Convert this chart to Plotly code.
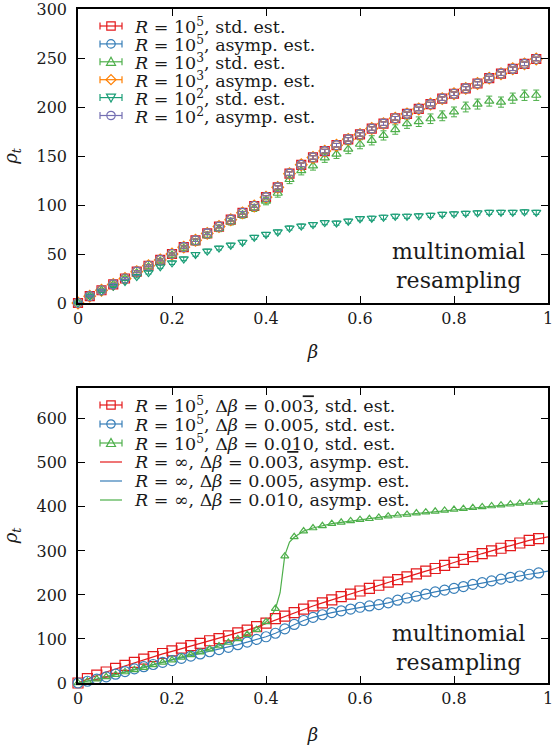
import plotly.graph_objects as go

# ---------------- data: top panel ----------------
beta_top = [0.0, 0.025, 0.05, 0.075, 0.1, 0.125, 0.15, 0.175, 0.2, 0.225,
            0.25, 0.275, 0.3, 0.325, 0.35, 0.375, 0.4, 0.425, 0.45, 0.475,
            0.5, 0.525, 0.55, 0.575, 0.6, 0.625, 0.65, 0.675, 0.7, 0.725,
            0.75, 0.775, 0.8, 0.825, 0.85, 0.875, 0.9, 0.925, 0.95, 0.975]

r1e5_std = [0, 7, 13, 19, 25, 32, 38, 44, 50, 57, 64, 71, 78, 85, 92, 99, 108, 118, 132, 141,
            148.5, 155, 161, 167, 172, 178, 183, 188.5, 193, 198, 203, 208.5, 213.5, 219, 224, 229.5, 234, 239, 244, 249]
r1e5_asy = [0, 7, 13, 19, 25, 32, 38, 44, 50, 57, 64, 71, 78, 85, 92, 99, 108, 118, 132, 141,
            148.5, 155, 161, 167, 172, 178, 183, 188.5, 193, 198, 203, 208.5, 213.5, 219, 224, 229.5, 234, 239, 244, 249]
r1e3_std = [0, 7, 13, 19, 25, 31, 37, 43, 49, 56, 62, 69, 76, 83, 90, 97, 104, 112, 126, 135,
            140, 148, 152, 157, 162, 166, 171, 177, 183, 185, 188, 191, 195, 200, 203, 206, 205, 209, 212, 212]
r1e3_asy = [0, 7, 13, 19, 25, 32, 38, 44, 50, 57, 64, 71, 78, 85, 92, 99, 108, 118, 132, 141,
            148.5, 155, 161, 167, 172, 178, 183, 188.5, 193, 198, 203, 208.5, 213.5, 219, 224, 229.5, 234, 239, 244, 249]
r1e2_std = [0, 7, 12, 17, 22, 27, 31, 37, 41, 45, 49.5, 53, 56, 59, 62, 67, 70, 72.5, 76.5, 78.5,
            80, 82, 81.5, 83.5, 86, 86.5, 87.5, 88.5, 88.5, 89, 89.5, 90.5, 91, 91.5, 92, 92.5, 92.5, 92.5, 93, 92.5]
r1e2_asy = [0, 7, 13, 19, 25, 32, 38, 44, 50, 57, 64, 71, 78, 85, 92, 99, 108, 118, 132, 141,
            148.5, 155, 161, 167, 172, 178, 183, 188.5, 193, 198, 203, 208.5, 213.5, 219, 224, 229.5, 234, 239, 244, 249]

err_small = [0.5, 0.8, 1, 1, 1, 1, 1, 1, 1.2, 1.2, 1.2, 1.2, 1.3, 1.3, 1.3, 1.4, 1.5, 1.6, 1.8, 1.8,
             1.8, 1.8, 1.8, 1.8, 1.8, 1.8, 1.8, 1.8, 1.8, 1.8, 1.8, 1.8, 1.8, 1.8, 1.8, 1.8, 1.8, 1.8, 1.8, 1.8]
err_r1e3 = [0.5, 1, 1.2, 1.5, 1.8, 2, 2.2, 2.4, 2.6, 2.8, 3, 3, 3.2, 3.4, 3.5, 3.6, 3.8, 4, 4.2, 4.3,
            4.4, 4.5, 4.5, 4.6, 4.6, 4.7, 4.7, 4.8, 4.8, 4.9, 4.9, 5, 5, 5, 5.1, 5.1, 5.2, 5.2, 5.3, 5.3]
err_r1e2 = [0.5, 0.8, 1, 1.2, 1.3, 1.4, 1.5, 1.6, 1.7, 1.8, 1.8, 1.9, 1.9, 2, 2, 2, 2, 2, 2.1, 2.1,
            2.1, 2.1, 2.1, 2.1, 2.1, 2.1, 2.1, 2.1, 2.1, 2.1, 2.1, 2.1, 2.1, 2.1, 2.1, 2.1, 2.1, 2.1, 2.1, 2.1]

# ---------------- data: bottom panel ----------------
beta_bot = [0.0, 0.02, 0.04, 0.06, 0.08, 0.1, 0.12, 0.14, 0.16, 0.18,
            0.2, 0.22, 0.24, 0.26, 0.28, 0.3, 0.32, 0.34, 0.36, 0.38,
            0.4, 0.42, 0.44, 0.46, 0.48, 0.5, 0.52, 0.54, 0.56, 0.58,
            0.6, 0.62, 0.64, 0.66, 0.68, 0.7, 0.72, 0.74, 0.76, 0.78,
            0.8, 0.82, 0.84, 0.86, 0.88, 0.9, 0.92, 0.94, 0.96, 0.98]

d0033_std = [0, 10, 18, 25, 33, 40, 47, 54, 60, 67, 73, 79, 85, 90, 96, 101, 107, 114, 120, 128,
             136, 146, 152, 160, 168, 175, 182, 189, 196, 202, 209, 215, 222, 229, 235, 241, 248, 254, 260, 267,
             274, 281, 287, 294, 300, 306, 312, 318, 324, 328]
d0050_std = [0, 4, 9, 14, 20, 26, 32, 37, 42, 47, 51, 56, 61, 66, 71, 76, 81, 87, 93, 99,
             105, 113, 123, 133, 142, 149, 155, 160, 164, 168, 172, 175, 178, 182, 188, 193, 197, 202, 207, 211,
             215, 219, 224, 228, 232, 236, 240, 243, 247, 250]
d0100_std = [0, 4, 9, 14, 19, 25, 30, 35, 41, 47, 52, 58, 64, 70, 77, 84, 92, 100, 110, 121,
             139, 169, 288, 332, 345, 352, 357, 362, 365, 368, 371, 373, 376, 379, 381, 383, 386, 388, 390, 392,
             394, 396, 398, 400, 402, 404, 406, 408, 410, 411]

beta_line = [0.0, 0.02, 0.04, 0.06, 0.08, 0.1, 0.12, 0.14, 0.16, 0.18,
             0.2, 0.22, 0.24, 0.26, 0.28, 0.3, 0.32, 0.34, 0.36, 0.38,
             0.4, 0.42, 0.44, 0.46, 0.48, 0.5, 0.52, 0.54, 0.56, 0.58,
             0.6, 0.62, 0.64, 0.66, 0.68, 0.7, 0.72, 0.74, 0.76, 0.78,
             0.8, 0.82, 0.84, 0.86, 0.88, 0.9, 0.92, 0.94, 0.96, 0.98, 1.0]
d0033_asy = [0, 9, 17, 25, 32, 39, 46, 53, 60, 66, 72, 78, 84, 90, 95, 101, 107, 113, 120, 127,
             135, 144, 152, 160, 167, 175, 182, 189, 196, 202, 209, 215, 222, 229, 235, 241, 248, 254, 260, 267,
             274, 281, 287, 294, 300, 306, 312, 318, 324, 328, 332]
d0050_asy = [0, 4, 9, 14, 20, 26, 32, 37, 42, 47, 51, 56, 61, 66, 71, 76, 81, 87, 93, 99,
             105, 113, 123, 133, 142, 149, 155, 160, 164, 168, 172, 175, 178, 182, 188, 193, 197, 202, 207, 211,
             215, 219, 224, 228, 232, 236, 240, 243, 247, 250, 254]

beta_line10 = [0.0, 0.02, 0.04, 0.06, 0.08, 0.1, 0.12, 0.14, 0.16, 0.18,
               0.2, 0.22, 0.24, 0.26, 0.28, 0.3, 0.32, 0.34, 0.36, 0.38,
               0.4, 0.41, 0.42, 0.43, 0.44, 0.45, 0.46, 0.47, 0.48, 0.5, 0.52, 0.54, 0.56, 0.58,
               0.6, 0.62, 0.64, 0.66, 0.68, 0.7, 0.72, 0.74, 0.76, 0.78,
               0.8, 0.82, 0.84, 0.86, 0.88, 0.9, 0.92, 0.94, 0.96, 0.98, 1.0]
d0100_asy = [0, 4, 9, 14, 19, 25, 30, 35, 41, 47, 52, 58, 64, 70, 77, 84, 92, 100, 110, 121,
             139, 150, 168, 205, 290, 320, 331, 339, 345, 352, 357, 362, 365, 368,
             371, 373, 376, 379, 381, 383, 386, 388, 390, 392,
             394, 396, 398, 400, 402, 404, 406, 408, 410, 411, 413]

x_ticks = [0, 0.2, 0.4, 0.6, 0.8, 1]
x_ticktext = ["0", "0.2", "0.4", "0.6", "0.8", "1"]
y_ticks_top = [0, 50, 100, 150, 200, 250, 300]
y_ticks_bot = [0, 100, 200, 300, 400, 500, 600]

top_labels = ["<i>R</i> = 10<sup>5</sup>, std. est.",
              "<i>R</i> = 10<sup>5</sup>, asymp. est.",
              "<i>R</i> = 10<sup>3</sup>, std. est.",
              "<i>R</i> = 10<sup>3</sup>, asymp. est.",
              "<i>R</i> = 10<sup>2</sup>, std. est.",
              "<i>R</i> = 10<sup>2</sup>, asymp. est."]
OVL3 = '<span style="text-decoration:overline">3</span>'
bot_labels = ["<i>R</i> = 10<sup>5</sup>, Δ<i>β</i> = 0.00" + OVL3 + ", std. est.",
              "<i>R</i> = 10<sup>5</sup>, Δ<i>β</i> = 0.005, std. est.",
              "<i>R</i> = 10<sup>5</sup>, Δ<i>β</i> = 0.010, std. est.",
              "<i>R</i> = ∞, Δ<i>β</i> = 0.00" + OVL3 + ", asymp. est.",
              "<i>R</i> = ∞, Δ<i>β</i> = 0.005, asymp. est.",
              "<i>R</i> = ∞, Δ<i>β</i> = 0.010, asymp. est."]

# ---------------- styling ----------------
RED = "#e41a1c"
BLUE = "#377eb8"
GREEN = "#4daf4a"
ORANGE = "#ff7f00"
TEAL = "#1b9e77"
PURPLE = "#7570b3"
FONT = "DejaVu Serif"
TXT = "#1a1a1a"

W, H = 553, 745
ML, MR, MT, MB = 78, 5, 9, 62
PW, PH = W - ML - MR, H - MT - MB


def px2x(px):
    return (px - ML) / PW


def py2y(py):
    return (H - MB - py) / PH


fig = go.Figure()


def top_series(y, err, color, symbol, size=9):
    fig.add_trace(go.Scatter(
        x=beta_top, y=y, mode="markers", xaxis="x", yaxis="y",
        marker=dict(symbol=symbol, size=size, color=color, line=dict(width=1.2, color=color)),
        error_y=dict(type="data", array=err, color=color, thickness=1, width=3),
        showlegend=False, cliponaxis=False))


top_series(r1e5_std, err_small, RED, "square-open")
top_series(r1e5_asy, err_small, BLUE, "circle-open")
top_series(r1e3_std, err_r1e3, GREEN, "triangle-up-open", size=8)
top_series(r1e3_asy, err_small, ORANGE, "diamond-open")
top_series(r1e2_std, err_r1e2, TEAL, "triangle-down-open", size=8)
top_series(r1e2_asy, err_small, PURPLE, "circle-open")


def bot_markers(y, color, symbol, size=9):
    fig.add_trace(go.Scatter(
        x=beta_bot, y=y, mode="markers", xaxis="x2", yaxis="y2",
        marker=dict(symbol=symbol, size=size, color=color, line=dict(width=1.2, color=color)),
        showlegend=False, cliponaxis=False))


def bot_line(xv, y, color):
    fig.add_trace(go.Scatter(
        x=xv, y=y, mode="lines", xaxis="x2", yaxis="y2",
        line=dict(color=color, width=1.2), showlegend=False))


bot_line(beta_line, d0033_asy, RED)
bot_line(beta_line, d0050_asy, BLUE)
bot_line(beta_line10, d0100_asy, GREEN)
bot_markers(d0033_std, RED, "square-open", size=10)
bot_markers(d0050_std, BLUE, "circle-open", size=10)
bot_markers(d0100_std, GREEN, "triangle-up-open", size=7)

# ---------------- hand-drawn legend keys (gnuplot style |-o-|) ----------------
shapes = []
annotations = []


def key_entry(row_py, label, color, kind, font_size):
    yc = py2y(row_py)
    xa, xb, xm = 100, 122, 111
    shapes.append(dict(type="line", xref="paper", yref="paper", x0=px2x(xa), x1=px2x(xb),
                       y0=yc, y1=yc, line=dict(color=color, width=1.2)))
    if kind != "line":
        for xc in (xa, xb):
            shapes.append(dict(type="line", xref="paper", yref="paper",
                               x0=px2x(xc), x1=px2x(xc), y0=py2y(row_py - 3.5), y1=py2y(row_py + 3.5),
                               line=dict(color=color, width=1.2)))
        common = dict(xref="paper", yref="paper", xsizemode="pixel", ysizemode="pixel",
                      xanchor=px2x(xm), yanchor=yc, line=dict(color=color, width=1.2),
                      fillcolor="rgba(0,0,0,0)")
        r = 4.2
        if kind == "square":
            shapes.append(dict(type="rect", x0=-r, x1=r, y0=-r, y1=r, **common))
        elif kind == "circle":
            shapes.append(dict(type="circle", x0=-r, x1=r, y0=-r, y1=r, **common))
        elif kind == "diamond":
            shapes.append(dict(type="path", path="M 0,-5 L 5,0 L 0,5 L -5,0 Z", **common))
        elif kind == "tri-up":
            shapes.append(dict(type="path", path="M -4.5,-3.5 L 4.5,-3.5 L 0,4.5 Z", **common))
        elif kind == "tri-down":
            shapes.append(dict(type="path", path="M -4.5,3.5 L 4.5,3.5 L 0,-4.5 Z", **common))
    annotations.append(dict(text=label, xref="paper", yref="paper", x=px2x(132), y=yc,
                            xanchor="left", yanchor="middle", showarrow=False,
                            font=dict(family=FONT, size=font_size, color=TXT)))


top_keys = [(RED, "square"), (BLUE, "circle"), (GREEN, "tri-up"),
            (ORANGE, "diamond"), (TEAL, "tri-down"), (PURPLE, "circle")]
for i, ((c, k), lab) in enumerate(zip(top_keys, top_labels)):
    key_entry(26 + 17.9 * i, lab, c, k, 17.5)

bot_keys = [(RED, "square"), (BLUE, "circle"), (GREEN, "tri-up"),
            (RED, "line"), (BLUE, "line"), (GREEN, "line")]
for i, ((c, k), lab) in enumerate(zip(bot_keys, bot_labels)):
    key_entry(405 + 19.0 * i, lab, c, k, 17.5)

annotations += [
    dict(text="multinomial<br>resampling", xref="x", yref="y", x=0.81, y=38, yanchor="middle",
         showarrow=False, font=dict(family=FONT, size=22, color=TXT), align="center"),
    dict(text="multinomial<br>resampling", xref="x2", yref="y2", x=0.81, y=79, yanchor="middle",
         showarrow=False, font=dict(family=FONT, size=22, color=TXT), align="center"),
]

axis_common = dict(
    showline=True, linecolor="black", linewidth=1.5, mirror="ticks",
    ticks="inside", ticklen=7, tickwidth=1, tickcolor="black",
    showgrid=False, zeroline=False, automargin=False, ticklabeloverflow="allow",
    tickfont=dict(family=FONT, size=16, color=TXT),
)
title_font = dict(family=FONT, size=18, color=TXT)
EPS = 1e-6

fig.update_layout(
    width=W, height=H,
    margin=dict(l=ML, r=MR, t=MT, b=MB),
    paper_bgcolor="white", plot_bgcolor="white",
    font=dict(family=FONT, color=TXT),
    showlegend=False,
    xaxis=dict(domain=[0, 1], range=[0, 1 + EPS], anchor="y",
               tickmode="array", tickvals=x_ticks, ticktext=x_ticktext,
               title=dict(text="<i>β</i>", font=title_font, standoff=18), **axis_common),
    yaxis=dict(domain=[py2y(303), 1], range=[0, 300 * (1 + EPS)], anchor="x",
               tickmode="array", tickvals=y_ticks_top,
               title=dict(text="<i>ρ<sub>t</sub></i>", font=title_font, standoff=19),
               ticklabelstandoff=6, **axis_common),
    xaxis2=dict(domain=[0, 1], range=[0, 1 + EPS], anchor="y2",
                tickmode="array", tickvals=x_ticks, ticktext=x_ticktext,
                title=dict(text="<i>β</i>", font=title_font, standoff=22), **axis_common),
    yaxis2=dict(domain=[0, py2y(388)], range=[0, 670], anchor="x2",
                tickmode="array", tickvals=y_ticks_bot,
                title=dict(text="<i>ρ<sub>t</sub></i>", font=title_font, standoff=19),
                ticklabelstandoff=6, **axis_common),
    shapes=shapes,
    annotations=annotations,
)

fig.write_html("out.html",
               config={"displayModeBar": False},
               post_script="document.body.style.margin='0';document.body.style.padding='0';"
                           "document.documentElement.style.overflow='hidden';")
